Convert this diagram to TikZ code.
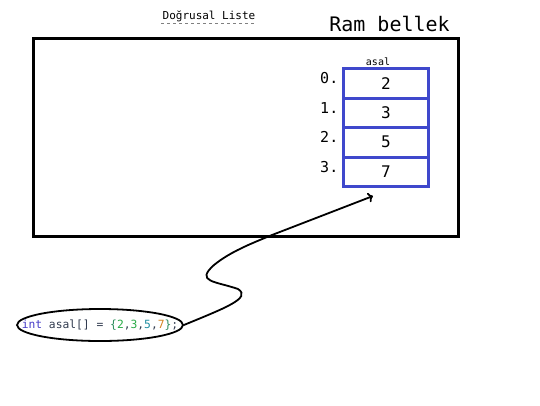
\documentclass[tikz,border=0pt]{standalone}
\usepackage{fontspec}
\setmonofont{DejaVu Sans Mono}
\usetikzlibrary{positioning,shapes.geometric,arrows.meta}

\begin{document}
\begin{tikzpicture}
		[x=1pt,y=-1pt,line cap=round,
		%Styles
		mono/.style={font=\ttfamily\fontsize{#1}{#1}\selectfont},
		ram box/.style={draw,line width=3pt,minimum width=425pt,minimum height=198pt,outer sep=0pt},
		cell/.style={draw=ramblue,line width=3pt,minimum width=85pt,minimum height=29.5pt,inner sep=0pt,outer sep=0pt,mono=16},
		index/.style={inner sep=1pt,mono=15,yshift=5pt},
		code oval/.style={ellipse,draw,line width=1.8pt,minimum width=166pt,minimum height=32pt,inner sep=0pt},
		code text/.style={inner sep=0pt,mono=11.3,text=codegray}
		]
		
		%Colors
		\definecolor{ramblue}{RGB}{63,72,204}
		\definecolor{codegray}{RGB}{50,60,80}
		\definecolor{kwblue}{RGB}{70,60,200}
		\definecolor{numgreen}{RGB}{40,170,70}
		\definecolor{numteal}{RGB}{30,140,160}
		\definecolor{numorange}{RGB}{210,130,30}
		\definecolor{bracegreen}{RGB}{40,140,90}
		
		\useasboundingbox (0,0) rectangle (540,405);
		
		%The graphic
		\node[mono=11,inner sep=1pt] (title) at (209,16) {Doğrusal Liste};
		\draw[dashed,gray,line cap=butt] (title.south west) -- (title.south east);
		
		\node[ram box] (ram) at (245.5,137) {};
		\node[mono=20,inner sep=0pt] (ramlabel) at (389.5,24) {Ram bellek};
		
		\node[cell] (c0) at (386,83.25) {2};
		\node[cell,below=0pt of c0] (c1) {3};
		\node[cell,below=0pt of c1] (c2) {5};
		\node[cell,below=0pt of c2] (c3) {7};
		\node[mono=10,inner sep=1pt,above=2pt of c0.north,xshift=-8pt] (arrname) {asal};
		
		\foreach \i in {0,...,3}
			\node[index,left=4pt of c\i.west] (i\i) {\i.};
		
		\node[code oval] (code) at (100,325) {};
		\node[code text] (codetxt) at (code.center) {\textcolor{kwblue}{int} asal[] = \textcolor{bracegreen}{\{}\textcolor{numgreen}{2},\textcolor{numgreen}{3},\textcolor{numteal}{5},\textcolor{numorange}{7}\textcolor{bracegreen}{\}};};
		
		\coordinate (tip) at (373,196);
		\draw[line width=1.8pt,-{To[length=5pt,width=10pt]}] (code.east)
			.. controls (225,308) and (252,298) .. (238,289)
			.. controls (215,281) and (195,282) .. (214,265)
			.. controls (230,252) and (250,244) .. (272,235) -- (tip);
	\end{tikzpicture}
\end{document}
